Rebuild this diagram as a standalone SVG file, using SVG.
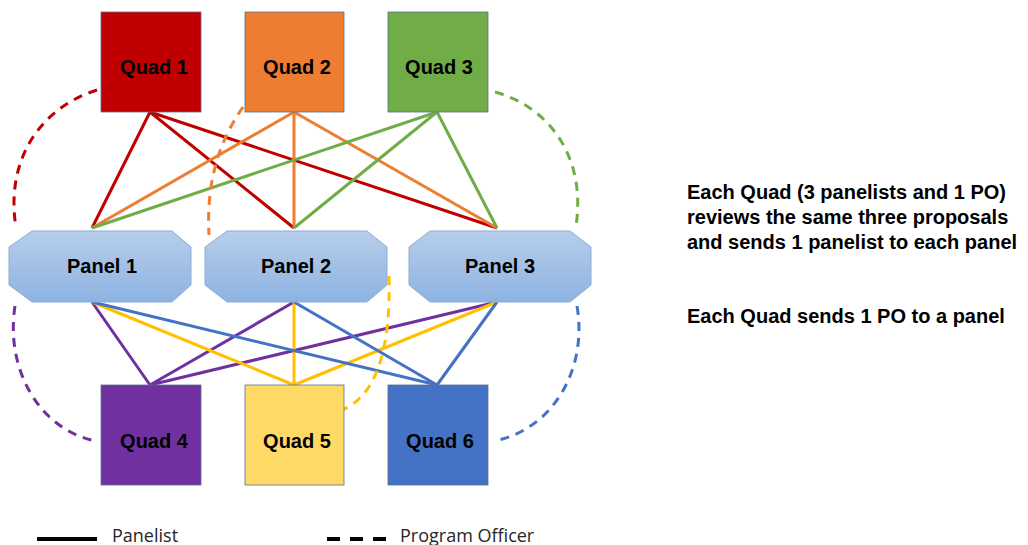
<svg xmlns="http://www.w3.org/2000/svg" width="1028" height="545" viewBox="0 0 1028 545">
<defs>
<linearGradient id="pg" x1="0" y1="0" x2="0" y2="1">
<stop offset="0" stop-color="#B6CEEA"/>
<stop offset="1" stop-color="#8EB3E2"/>
</linearGradient>
<style>
.q{stroke:#5B6F8F;stroke-width:0.8}
.qt{font-family:"Liberation Sans",Arial,sans-serif;font-weight:bold;font-size:20px;fill:#000;text-anchor:middle}
.pn{fill:url(#pg);stroke:#8AADD8;stroke-width:1}
.ln{stroke-width:3;fill:none}
.da{stroke-width:3;fill:none;stroke-dasharray:9 7}
.rt{font-family:"Liberation Sans",Arial,sans-serif;font-weight:bold;font-size:20px;fill:#000}
.lg{font-family:"Open Sans","Liberation Sans",sans-serif;font-size:18px;fill:#262626}
</style>
</defs>
<rect width="1028" height="545" fill="#fff"/>
<g id="connectors">
<path class="ln" stroke="#C00000" d="M150,112L92,228M150,112L294,228M150,112L497,228"/>
<path class="ln" stroke="#ED7D31" d="M294,112L92,228M294,112L294,228M294,112L497,228"/>
<path class="ln" stroke="#70AD47" d="M437,112L92,228M437,112L294,228M437,112L497,228"/>
<path class="ln" stroke="#7030A0" d="M150,385L92,302M150,385L294,302M150,385L497,302"/>
<path class="ln" stroke="#FFC000" d="M294,385L92,302M294,385L294,302M294,385L497,302"/>
<path class="ln" stroke="#4472C4" d="M437,385L92,302M437,385L294,302M437,385L497,302"/>
<path class="da" stroke="#C00000" d="M97,90C40,108 5,160 16,228"/>
<path class="da" stroke="#ED7D31" d="M243,107C220,140 206,180 209,235"/>
<path class="da" stroke="#70AD47" d="M495,92C552,108 586,160 576,226"/>
<path class="da" stroke="#7030A0" d="M15,306C5,370 40,430 96,441"/>
<path class="da" stroke="#4472C4" d="M577,306C588,370 552,430 494,441"/>
<path class="da" stroke="#FFC000" d="M389,276C391,350 376,396 342,410"/>
</g>
<g id="quad1"><rect class="q" x="101" y="12" width="100" height="100" fill="#C00000"/><text class="qt" x="154" y="74">Quad 1</text></g>
<g id="quad2"><rect class="q" x="245" y="12" width="99" height="100" fill="#ED7D31"/><text class="qt" x="297" y="74">Quad 2</text></g>
<g id="quad3"><rect class="q" x="388" y="12" width="100" height="100" fill="#70AD47"/><text class="qt" x="439" y="74">Quad 3</text></g>
<g id="panel1"><polygon class="pn" points="32,231 172,231 191,247 191,285 172,302 32,302 9,285 9,247"/><text class="qt" x="102" y="273">Panel 1</text></g>
<g id="panel2"><polygon class="pn" points="227,231 367,231 387,247 387,285 367,302 227,302 205,285 205,247"/><text class="qt" x="296" y="273">Panel 2</text></g>
<g id="panel3"><polygon class="pn" points="430,231 570,231 591,247 591,285 570,302 430,302 409,285 409,247"/><text class="qt" x="500" y="273">Panel 3</text></g>
<g id="quad4"><rect class="q" x="101" y="385" width="100" height="100" fill="#7030A0"/><text class="qt" x="154" y="448">Quad 4</text></g>
<g id="quad5"><rect class="q" x="245" y="385" width="99" height="100" fill="#FFD966"/><text class="qt" x="297" y="448">Quad 5</text></g>
<g id="quad6"><rect class="q" x="388" y="385" width="100" height="100" fill="#4472C4"/><text class="qt" x="440" y="448">Quad 6</text></g>
<g id="notes">
<text class="rt" x="687" y="199">Each Quad (3 panelists and 1 PO)</text>
<text class="rt" x="687" y="224">reviews the same three proposals</text>
<text class="rt" x="687" y="249">and sends 1 panelist to each panel</text>
<text class="rt" x="687" y="323">Each Quad sends 1 PO to a panel</text>
</g>
<g id="legend">
<line x1="37" y1="539" x2="97" y2="539" stroke="#000" stroke-width="4"/>
<text class="lg" x="112" y="542">Panelist</text>
<line x1="327" y1="539" x2="386" y2="539" stroke="#000" stroke-width="4" stroke-dasharray="13 10"/>
<text class="lg" x="400" y="542">Program Officer</text>
</g>
</svg>
